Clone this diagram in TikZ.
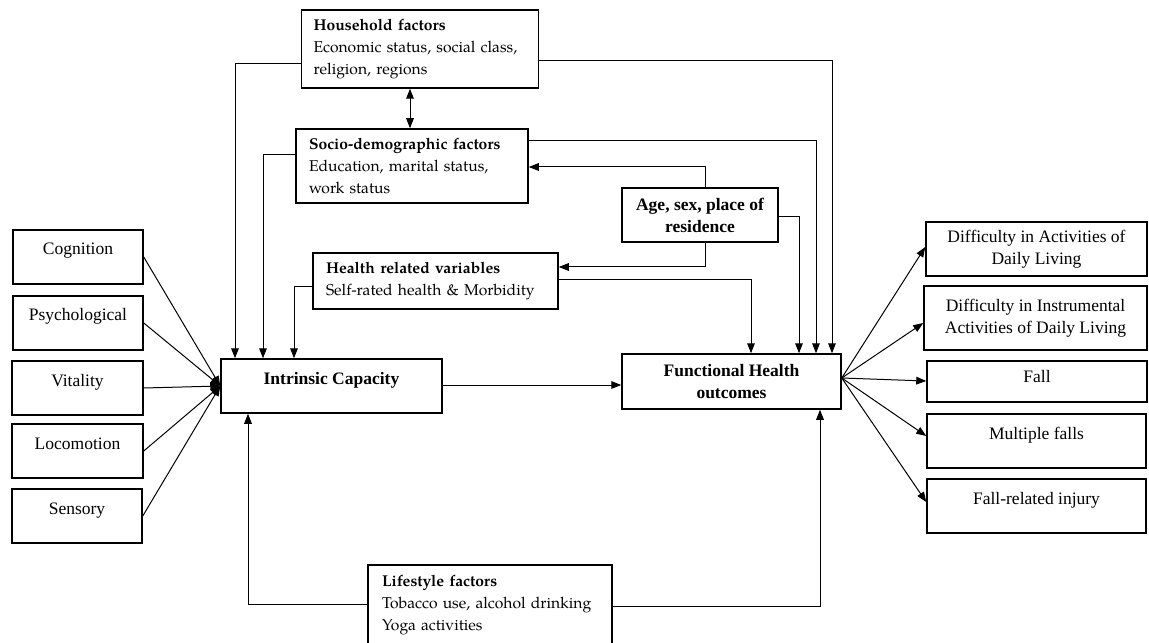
\documentclass[tikz,border=0pt]{standalone}
\usepackage{fontspec}
\setmainfont{Liberation Serif}
\newfontfamily\palfam{TeX Gyre Pagella}
\usetikzlibrary{arrows.meta,calc}
\def\pxu{0.6pt}
\newcommand\palf{\palfam\fontsize{9.4}{13.1}\selectfont}
\newcommand\tmsf{\fontsize{10.5}{13.2}\selectfont}
\begin{document}
\begin{tikzpicture}[x=0.6pt,y=-0.6pt,
  box/.style={draw, line width=0.9pt, inner sep=0pt},
  pbox/.style={box, align=left, font=\palf},
  tbox/.style={box, align=center, font=\tmsf},
  bbox/.style={box, align=center, font=\tmsf\bfseries},
  sz/.style 2 args={minimum width=#1*\pxu, minimum height=#2*\pxu},
  up/.style={text height=7pt, text depth=#1},
  up/.default=9.4pt,
  arr/.style={line width=0.6pt, -{Triangle[length=6pt,width=4.6pt]}},
  arrr/.style={line width=0.6pt, {Triangle[length=6pt,width=4.6pt]}-{Triangle[length=6pt,width=4.6pt]}}]
\useasboundingbox (0,0) rectangle (1149,643);
\clip (0,0) rectangle (1149,643);

% upper factor boxes
\node[pbox, sz={237}{78}, text width=213*\pxu] (hh) at (420,49)
  {\textbf{Household factors}\\\mbox{Economic status, social class,}\\religion, regions};
\node[pbox, sz={232}{74}, text width=206*\pxu] (so) at (412,166)
  {\mbox{\textbf{Socio-demographic factors}}\\\mbox{Education, marital status,}\\work status};
\node[bbox, sz={156}{54}] (age) at (700,215) {Age, sex, place of\\residence};
\node[pbox, sz={245}{56}, text width=219*\pxu] (hr) at (435.5,281)
  {\mbox{\textbf{Health related variables}}\\\mbox{Self-rated health \& Morbidity}};
\node[pbox, sz={244}{80}, text width=216*\pxu] (ls) at (490,605)
  {\textbf{Lifestyle factors}\\\mbox{Tobacco use, alcohol drinking}\\Yoga activities};

% central boxes
\node[bbox, up, sz={221}{54}] (ic) at (331.5,386) {Intrinsic Capacity};
\node[bbox, sz={219}{55}] (fh) at (731.5,381.5) {Functional Health\\outcomes};

% left domain boxes
\node[tbox, up, sz={130}{54}] (cog) at (78,257) {Cognition};
\node[tbox, up, sz={130}{54}] (psy) at (78,323) {Psychological};
\node[tbox, up, sz={131}{54}] (vit) at (77.5,388) {Vitality};
\node[tbox, up, sz={131}{54}] (loc) at (77.5,451) {Locomotion};
\node[tbox, up, sz={130}{54}] (sen) at (77,516) {Sensory};

% right outcome boxes
\node[tbox, sz={221}{54}] (adl) at (1036.5,249) {Difficulty in Activities of\\Daily Living};
\node[tbox, sz={223}{64}] (iadl) at (1035.5,318) {Difficulty in Instrumental\\Activities of Daily Living};
\node[tbox, up=6.4pt, sz={220}{41}] (fall) at (1037,381.5) {Fall};
\node[tbox, up, sz={219}{54}] (mf) at (1036.5,441) {Multiple falls};
\node[tbox, up, sz={219}{54}] (fri) at (1036.5,506) {Fall-related injury};

% connectors into intrinsic capacity
\draw[arr] (hh.west |- 0,64) -| (ic.north -| 235,0);
\draw[arr] (so.west |- 0,155) -| (ic.north -| 263,0);
\draw[arr] (hr.west |- 0,287) -| (ic.north -| 294,0);
\draw[arr] (ls.west |- 0,604) -| (ic.south -| 248,0);
\foreach \b in {cog,psy,vit,loc,sen}
  \draw[arr] (\b.east) -- (ic.west);

% connectors into functional health
\draw[arr] (ic.east |- 0,385) -- (fh.west |- 0,385);
\draw[arr] (hh.east |- 0,61) -| (fh.north -| 832,0);
\draw[arr] (so.east |- 0,141) -| (fh.north -| 816,0);
\draw[arr] (age.east |- 0,217) -| (fh.north -| 799,0);
\draw[arr] (hr.east |- 0,280) -| (fh.north -| 751,0);
\draw[arr] (ls.east |- 0,606) -| (fh.south -| 820,0);

% age connectors
\draw[arr] (age.north -| 705,0) |- (so.east |- 0,167);
\draw[arr] (age.south -| 705,0) |- (hr.east |- 0,267);
\draw[arrr] (hh.south -| 410,0) -- (so.north -| 410,0);

% outcome connectors
\draw[arr] (fh.east |- 0,378) -- (adl.west |- 0,247);
\draw[arr] (fh.east |- 0,378) -- (iadl.west |- 0,323);
\draw[arr] (fh.east |- 0,378) -- (fall.west |- 0,381);
\draw[arr] (fh.east |- 0,378) -- (mf.west |- 0,436);
\draw[arr] (fh.east |- 0,378) -- (fri.west |- 0,502);
\end{tikzpicture}
\end{document}
